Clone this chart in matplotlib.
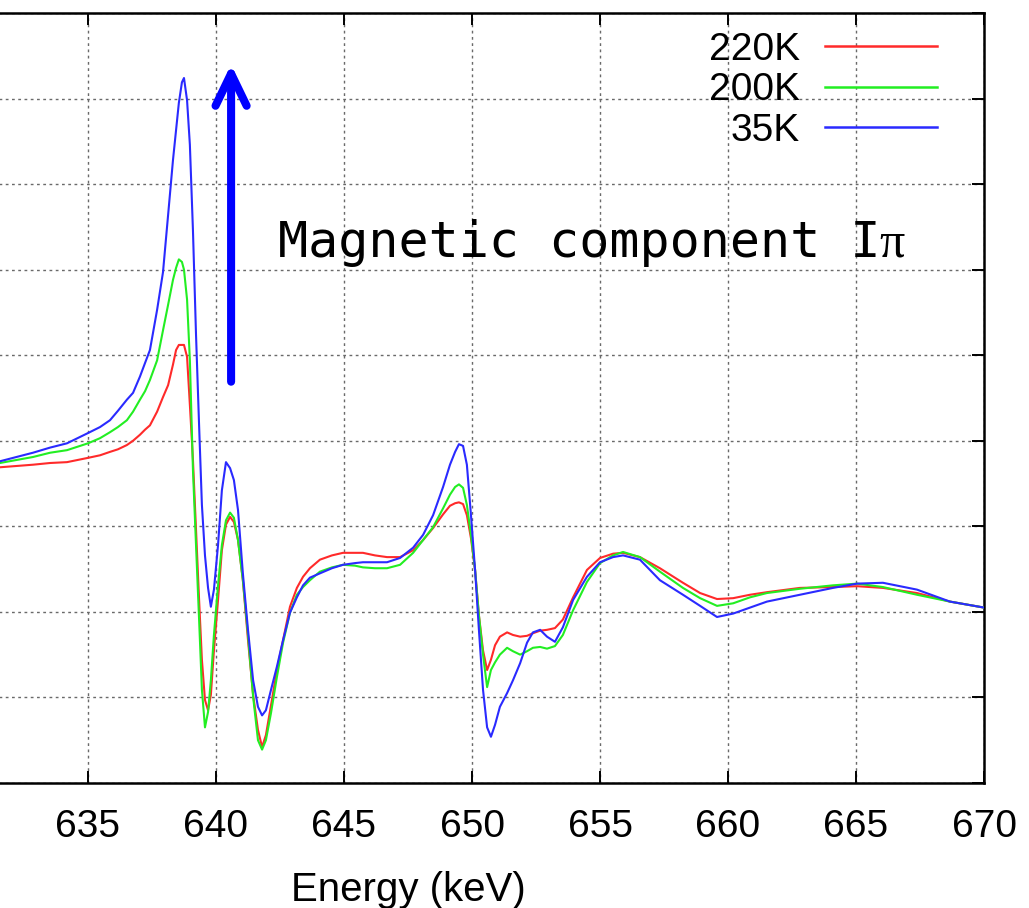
import matplotlib
matplotlib.use("Agg")
import matplotlib.pyplot as plt

# Photon energy grid (keV) shared by all three spectra
energy = [631.56, 632.85, 633.52, 634.18, 635.00, 635.47, 635.86, 636.17, 636.52, 636.76,
          637.03, 637.23, 637.42, 637.70, 637.93,
          638.13, 638.32, 638.44, 638.55, 638.67, 638.75, 638.87, 638.98, 639.10, 639.22,
          639.34, 639.45, 639.57, 639.69, 639.80, 639.92, 640.08, 640.23, 640.39, 640.55,
          640.70, 640.86, 641.05, 641.25, 641.45, 641.64, 641.80, 641.95, 642.15, 642.38,
          642.62, 642.89, 643.16, 643.40, 643.67, 644.06, 644.53, 644.96, 645.43, 645.74,
          646.21, 646.68, 647.19, 647.70, 648.09, 648.48, 648.87, 649.14, 649.34, 649.49,
          649.65, 649.80, 649.96, 650.12, 650.27, 650.43, 650.59, 650.74, 650.90, 651.09,
          651.37, 651.60, 651.88, 652.15, 652.38, 652.66, 652.93, 653.24, 653.55, 653.95,
          654.49, 655.00, 655.51, 655.90, 656.56, 657.34, 658.24, 658.91, 659.57, 660.20,
          660.86, 661.52, 662.81, 664.10, 665.04, 666.05, 667.38, 668.67, 670.00]

# Intensity at 220 K
i_220k = [3.69, 3.72, 3.74, 3.75, 3.80, 3.83, 3.87, 3.90, 3.95, 4.00,
          4.07, 4.13, 4.18, 4.34, 4.51,
          4.65, 4.89, 5.06, 5.12, 5.12, 5.12, 4.98, 4.42, 3.78, 2.96,
          2.14, 1.44, 0.97, 0.85, 1.03, 1.55, 2.14, 2.72, 3.02, 3.11,
          3.05, 2.84, 2.37, 1.67, 1.03, 0.62, 0.42, 0.56, 0.91, 1.32,
          1.67, 2.06, 2.28, 2.41, 2.51, 2.61, 2.66, 2.69, 2.69, 2.69,
          2.66, 2.64, 2.64, 2.72, 2.84, 2.98, 3.14, 3.24, 3.27, 3.28,
          3.26, 3.13, 2.86, 2.49, 1.96, 1.55, 1.32, 1.44, 1.61, 1.71,
          1.76, 1.73, 1.71, 1.72, 1.75, 1.78, 1.79, 1.81, 1.91, 2.17,
          2.49, 2.63, 2.68, 2.69, 2.64, 2.51, 2.34, 2.22, 2.15, 2.16,
          2.20, 2.23, 2.28, 2.29, 2.30, 2.28, 2.22, 2.12, 2.05]

# Intensity at 200 K
i_200k = [3.74, 3.81, 3.86, 3.89, 3.97, 4.03, 4.10, 4.16, 4.24, 4.34,
          4.48, 4.58, 4.71, 4.94, 5.29,
          5.59, 5.88, 6.02, 6.12, 6.09, 6.00, 5.65, 4.94, 3.66, 2.78,
          1.91, 1.09, 0.65, 0.83, 1.20, 1.73, 2.31, 2.78, 3.07, 3.16,
          3.10, 2.84, 2.37, 1.73, 1.01, 0.50, 0.39, 0.50, 0.82, 1.24,
          1.64, 1.99, 2.20, 2.29, 2.37, 2.47, 2.52, 2.55, 2.54, 2.52,
          2.51, 2.51, 2.55, 2.69, 2.84, 2.99, 3.21, 3.37, 3.46, 3.49,
          3.45, 3.25, 2.90, 2.49, 1.96, 1.50, 1.12, 1.32, 1.41, 1.50,
          1.58, 1.54, 1.50, 1.54, 1.58, 1.59, 1.57, 1.60, 1.73, 2.02,
          2.35, 2.57, 2.66, 2.70, 2.64, 2.47, 2.28, 2.16, 2.07, 2.10,
          2.17, 2.22, 2.27, 2.31, 2.33, 2.29, 2.20, 2.12, 2.05]

# Intensity at 35 K
i_35k = [3.76, 3.86, 3.92, 3.97, 4.09, 4.16, 4.24, 4.35, 4.48, 4.56,
         4.75, 4.91, 5.06, 5.53, 5.97,
         6.64, 7.28, 7.63, 7.95, 8.19, 8.24, 7.98, 7.46, 6.46, 5.24,
         4.18, 3.25, 2.66, 2.28, 2.06, 2.26, 2.78, 3.42, 3.75, 3.68,
         3.54, 3.19, 2.45, 1.79, 1.20, 0.89, 0.79, 0.85, 1.09, 1.36,
         1.67, 1.99, 2.17, 2.31, 2.40, 2.45, 2.51, 2.55, 2.57, 2.58,
         2.58, 2.58, 2.63, 2.75, 2.90, 3.13, 3.46, 3.72, 3.87, 3.96,
         3.94, 3.72, 3.13, 2.49, 1.79, 1.09, 0.65, 0.54, 0.68, 0.89,
         1.05, 1.20, 1.40, 1.64, 1.76, 1.79, 1.71, 1.65, 1.82, 2.14,
         2.41, 2.58, 2.64, 2.66, 2.61, 2.37, 2.20, 2.07, 1.94, 1.98,
         2.05, 2.12, 2.20, 2.28, 2.33, 2.34, 2.26, 2.12, 2.05]

labels = ["220K", "200K", "35K"]
colors = ["#ff2a2a", "#22ee22", "#2a2aff"]
xticks = [635, 640, 645, 650, 655, 660, 665, 670]

plt.rcParams["font.family"] = ["Liberation Sans", "DejaVu Sans"]

fig = plt.figure(figsize=(10.29, 9.08), dpi=100)
ax = fig.add_axes([-0.1633, 0.1377, 1.1196, 0.848])

series = [i_220k, i_200k, i_35k]
for vals, lab, col in zip(series, labels, colors):
    ax.plot(energy, vals, color=col, lw=1.5, label=lab, zorder=3)

ax.set_xlim(625, 670)
ax.set_ylim(0, 9)
ax.set_xticks(xticks)
ax.set_yticks(range(0, 10))
ax.tick_params(axis="both", direction="in", length=8.5, width=1.4,
               top=True, right=True, left=False, labelleft=False,
               labelsize=28, pad=19)
ax.grid(True, color="#6a6a6a", lw=1.0, linestyle=(0, (2, 2.5)))
ax.set_axisbelow(True)
for sp in ax.spines.values():
    sp.set_linewidth(1.8)

ax.set_xlabel("Energy (keV)", fontsize=29)
ax.xaxis.set_label_coords(0.5, -0.114)

# Gnuplot-style key: right-aligned label followed by a line sample
key_rows = [0.939, 0.887, 0.834]
for lab, col, yk in zip(labels, colors, key_rows):
    ax.text(0.8403, yk, lab, transform=ax.transAxes, ha="right", va="baseline",
            fontsize=28)
    ax.plot([0.862, 0.9592], [yk + 0.0175, yk + 0.0175], transform=ax.transAxes,
            color=col, lw=1.8, clip_on=False)

# Arrow showing growth of the magnetic signal on cooling
ax.annotate("", xy=(640.59, 8.40), xytext=(640.59, 4.69),
            arrowprops=dict(arrowstyle="->,head_length=0.58,head_width=0.28",
                            mutation_scale=40, lw=5.8, color="#0000ff",
                            shrinkA=0, shrinkB=0), zorder=4)

ax.text(642.42, 6.15, "Magnetic component I", fontsize=36,
        family=["DejaVu Sans Mono"], ha="left", va="baseline")
ax.text(665.9, 6.15, "π", fontsize=36,
        family=["Liberation Serif", "DejaVu Serif"], ha="left", va="baseline")

fig.savefig("out.png", dpi=100)
